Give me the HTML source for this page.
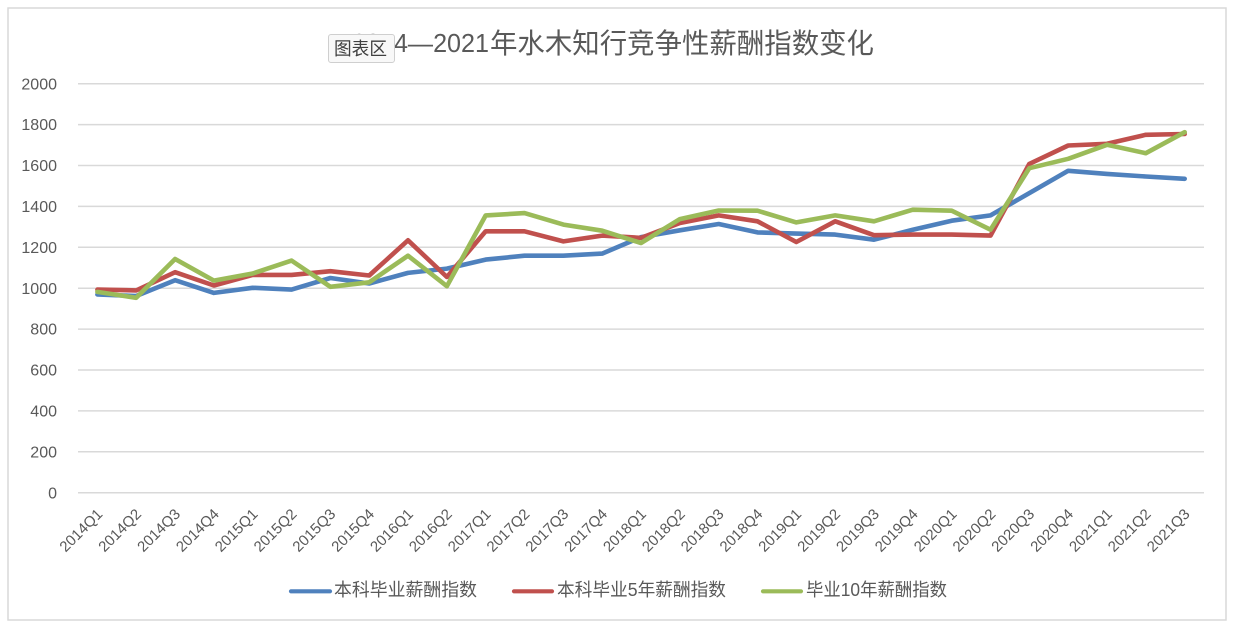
<!DOCTYPE html>
<html><head><meta charset="utf-8"><style>
html,body{margin:0;padding:0;background:#fff;}
svg{display:block;}
text{font-family:"Liberation Sans","Noto Sans CJK SC",sans-serif;fill:#595959;}
</style></head><body>
<svg width="1233" height="629" viewBox="0 0 1233 629" xmlns="http://www.w3.org/2000/svg">
<rect x="0" y="0" width="1233" height="629" fill="#fff"/>
<rect x="8" y="8" width="1218" height="612" fill="#fff" stroke="#d9d9d9" stroke-width="1.5"/>
<!-- gridlines -->
<g stroke="#d9d9d9" stroke-width="1.5">
<line x1="78" x2="1204" y1="492.7" y2="492.7"/>
<line x1="78" x2="1204" y1="451.8" y2="451.8"/>
<line x1="78" x2="1204" y1="410.9" y2="410.9"/>
<line x1="78" x2="1204" y1="370.0" y2="370.0"/>
<line x1="78" x2="1204" y1="329.1" y2="329.1"/>
<line x1="78" x2="1204" y1="288.2" y2="288.2"/>
<line x1="78" x2="1204" y1="247.3" y2="247.3"/>
<line x1="78" x2="1204" y1="206.4" y2="206.4"/>
<line x1="78" x2="1204" y1="165.5" y2="165.5"/>
<line x1="78" x2="1204" y1="124.6" y2="124.6"/>
<line x1="78" x2="1204" y1="83.7" y2="83.7"/>
</g>
<!-- y labels -->
<g font-size="16" text-anchor="end">
<text x="57" y="498.3">0</text>
<text x="57" y="457.4">200</text>
<text x="57" y="416.5">400</text>
<text x="57" y="375.6">600</text>
<text x="57" y="334.7">800</text>
<text x="57" y="293.8">1000</text>
<text x="57" y="252.9">1200</text>
<text x="57" y="212.0">1400</text>
<text x="57" y="171.1">1600</text>
<text x="57" y="130.2">1800</text>
<text x="57" y="89.3">2000</text>
</g>
<!-- x labels -->
<g font-size="15" text-anchor="end">
<text transform="translate(103.4,515) rotate(-45)">2014Q1</text>
<text transform="translate(142.2,515) rotate(-45)">2014Q2</text>
<text transform="translate(181.1,515) rotate(-45)">2014Q3</text>
<text transform="translate(219.9,515) rotate(-45)">2014Q4</text>
<text transform="translate(258.7,515) rotate(-45)">2015Q1</text>
<text transform="translate(297.6,515) rotate(-45)">2015Q2</text>
<text transform="translate(336.4,515) rotate(-45)">2015Q3</text>
<text transform="translate(375.2,515) rotate(-45)">2015Q4</text>
<text transform="translate(414.0,515) rotate(-45)">2016Q1</text>
<text transform="translate(452.9,515) rotate(-45)">2016Q2</text>
<text transform="translate(491.7,515) rotate(-45)">2017Q1</text>
<text transform="translate(530.5,515) rotate(-45)">2017Q2</text>
<text transform="translate(569.4,515) rotate(-45)">2017Q3</text>
<text transform="translate(608.2,515) rotate(-45)">2017Q4</text>
<text transform="translate(647.0,515) rotate(-45)">2018Q1</text>
<text transform="translate(685.9,515) rotate(-45)">2018Q2</text>
<text transform="translate(724.7,515) rotate(-45)">2018Q3</text>
<text transform="translate(763.5,515) rotate(-45)">2018Q4</text>
<text transform="translate(802.3,515) rotate(-45)">2019Q1</text>
<text transform="translate(841.2,515) rotate(-45)">2019Q2</text>
<text transform="translate(880.0,515) rotate(-45)">2019Q3</text>
<text transform="translate(918.8,515) rotate(-45)">2019Q4</text>
<text transform="translate(957.7,515) rotate(-45)">2020Q1</text>
<text transform="translate(996.5,515) rotate(-45)">2020Q2</text>
<text transform="translate(1035.3,515) rotate(-45)">2020Q3</text>
<text transform="translate(1074.2,515) rotate(-45)">2020Q4</text>
<text transform="translate(1113.0,515) rotate(-45)">2021Q1</text>
<text transform="translate(1151.8,515) rotate(-45)">2021Q2</text>
<text transform="translate(1190.7,515) rotate(-45)">2021Q3</text>
</g>
<!-- series -->
<g fill="none" stroke-width="4.6" stroke-linejoin="round" stroke-linecap="round">
<polyline stroke="#4F81BD" points="97.4,294.5 136.2,296.0 175.1,280.2 213.9,292.9 252.7,287.8 291.6,289.6 330.4,278.0 369.2,283.5 408.0,272.9 446.9,268.6 485.7,259.6 524.5,255.7 563.4,255.7 602.2,253.6 641.0,237.1 679.9,230.3 718.7,224.0 757.5,232.4 796.3,233.6 835.2,234.6 874.0,239.7 912.8,229.7 951.7,220.7 990.5,215.4 1029.3,193.1 1068.2,170.8 1107.0,173.9 1145.8,176.5 1184.7,178.8"/>
<polyline stroke="#C0504D" points="97.4,289.6 136.2,290.4 175.1,272.2 213.9,285.5 252.7,274.9 291.6,274.9 330.4,271.2 369.2,275.5 408.0,240.3 446.9,277.0 485.7,231.3 524.5,231.3 563.4,241.4 602.2,235.6 641.0,237.9 679.9,223.0 718.7,215.4 757.5,221.3 796.3,242.0 835.2,221.3 874.0,235.2 912.8,234.6 951.7,234.6 990.5,235.6 1029.3,163.9 1068.2,145.5 1107.0,143.8 1145.8,134.8 1184.7,134.0"/>
<polyline stroke="#9BBB59" points="97.4,291.9 136.2,297.8 175.1,259.0 213.9,280.6 252.7,273.5 291.6,260.6 330.4,286.8 369.2,282.3 408.0,255.7 446.9,286.2 485.7,215.4 524.5,213.1 563.4,224.6 602.2,230.7 641.0,243.0 679.9,219.1 718.7,210.5 757.5,210.7 796.3,222.4 835.2,215.4 874.0,221.3 912.8,209.7 951.7,210.7 990.5,229.7 1029.3,168.2 1068.2,158.8 1107.0,144.8 1145.8,153.2 1184.7,132.2"/>
</g>
<!-- title -->
<text x="352" y="52" font-size="26" textLength="137" lengthAdjust="spacingAndGlyphs">2014—2021</text>
<text x="490" y="53" font-size="28" textLength="384" lengthAdjust="spacingAndGlyphs">年水木知行竞争性薪酬指数变化</text>
<!-- tooltip -->
<rect x="328.5" y="34.5" width="66" height="28" rx="2.5" fill="#f8f8f8" stroke="#cfcfcf" stroke-width="1"/>
<text x="334" y="55" font-size="18" textLength="53" lengthAdjust="spacingAndGlyphs" style="fill:#404040">图表区</text>
<!-- legend -->
<g stroke-width="4.2" stroke-linecap="round">
<line x1="291" x2="330" y1="591.3" y2="591.3" stroke="#4F81BD"/>
<line x1="514" x2="552" y1="591.3" y2="591.3" stroke="#C0504D"/>
<line x1="763" x2="801" y1="591.3" y2="591.3" stroke="#9BBB59"/>
</g>
<g font-size="18">
<text x="334" y="596" textLength="143" lengthAdjust="spacingAndGlyphs">本科毕业薪酬指数</text>
<text x="557" y="596" textLength="169" lengthAdjust="spacingAndGlyphs">本科毕业5年薪酬指数</text>
<text x="806" y="596" textLength="141" lengthAdjust="spacingAndGlyphs">毕业10年薪酬指数</text>
</g>
</svg>
</body></html>
